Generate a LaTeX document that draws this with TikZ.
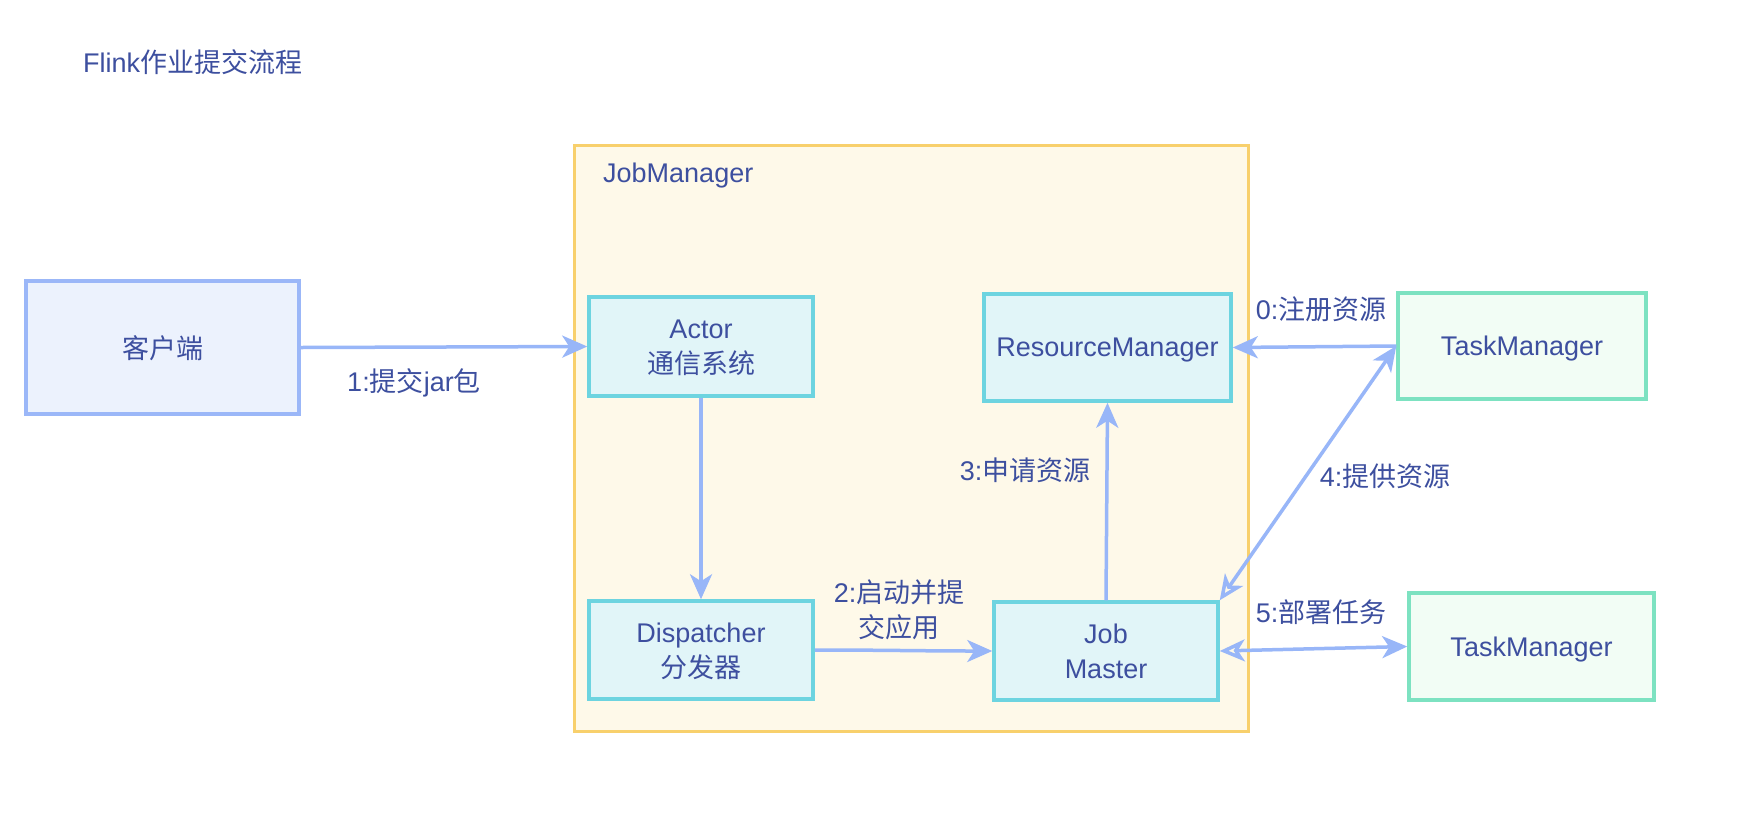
\documentclass[tikz,border=0pt]{standalone}
\usepackage{fontspec}
\setmainfont{Liberation Sans}
\newfontfamily\cjk{Noto Sans CJK SC}
\usetikzlibrary{arrows.meta}
\definecolor{txt}{HTML}{3D4F9F}
\definecolor{arrowc}{HTML}{98B6F8}
\definecolor{clientfill}{HTML}{ECF2FD}
\definecolor{clientdraw}{HTML}{9BB7F8}
\definecolor{cyanfill}{HTML}{E1F5F8}
\definecolor{cyandraw}{HTML}{6DD4E0}
\definecolor{jmfill}{HTML}{FEF9E9}
\definecolor{jmdraw}{HTML}{F8D06C}
\definecolor{greenfill}{HTML}{F2FDF5}
\definecolor{greendraw}{HTML}{7DE2C1}
\tikzset{
  basebox/.style={rectangle, line width=3.5pt, align=center, text=txt,
    font=\fontsize{27}{35}\selectfont, inner sep=0pt, text depth=0pt},
  clientbox/.style={basebox, draw=clientdraw, fill=clientfill},
  cyanbox/.style={basebox, draw=cyandraw, fill=cyanfill},
  greenbox/.style={basebox, draw=greendraw, fill=greenfill},
  lbl/.style={text=txt, font=\fontsize{27}{35}\selectfont, align=center, inner sep=0pt},
  flow/.style={draw=arrowc, line width=3.5pt},
  fhead/.style={-{Stealth[length=25pt,width=22pt,inset=7pt]}},
  dhead/.style={{Stealth[open,length=25pt,width=22pt,inset=7pt]}-{Stealth[length=25pt,width=22pt,inset=7pt]}},
}
\begin{document}
\begin{tikzpicture}[x=1pt,y=-1pt]
\useasboundingbox (0,0) rectangle (1740,812);
\fill[white] (0,0) rectangle (1740,812);
% title
\node[lbl, anchor=west] (title) at (83,62) {Flink{\cjk 作业提交流程}};
% container
\draw[draw=jmdraw, fill=jmfill, line width=3pt] (574.5,145.5) rectangle (1248.5,731.5);
\node[lbl, anchor=west] (jmlabel) at (603,176) {JobManager};
% nodes
\node[clientbox, minimum width=273pt, minimum height=133pt] (client) at (162.5,347.5) {\cjk 客户端};
\node[cyanbox, minimum width=224pt, minimum height=99pt] (actor) at (701,346.5) {Actor\\{\cjk 通信系统}};
\node[cyanbox, minimum width=224pt, minimum height=98pt] (disp) at (701,650) {Dispatcher\\{\cjk 分发器}};
\node[cyanbox, minimum width=247pt, minimum height=107pt] (rm) at (1107.5,347.5) {ResourceManager};
\node[cyanbox, minimum width=224pt, minimum height=98pt] (jm) at (1106,651) {Job\\Master};
\node[greenbox, minimum width=248pt, minimum height=106pt] (tm1) at (1522,346) {TaskManager};
\node[greenbox, minimum width=245pt, minimum height=107pt] (tm2) at (1531.5,646.5) {TaskManager};
% edges
\draw[flow, fhead] (client.east) -- (actor.west);
\draw[flow, fhead] (actor.south) -- (disp.north);
\draw[flow, fhead] (disp.east) to[out=0,in=180] (jm.west);
\draw[flow, fhead] (jm.north) -- (rm.south);
\draw[flow, fhead] (tm1.west) -- (rm.east);
\draw[flow, dhead] (jm.north east) -- (tm1.west);
\draw[flow, dhead] (jm.east) -- (tm2.west);
% labels
\node[lbl] (l1) at (414,383) {1:{\cjk 提交}jar{\cjk 包}};
\node[lbl] (l2) at (899,610) {2:{\cjk 启动并提}\\{\cjk 交应用}};
\node[lbl] (l3) at (1025,470) {3:{\cjk 申请资源}};
\node[lbl] (l0) at (1321,309) {0:{\cjk 注册资源}};
\node[lbl] (l4) at (1385,476) {4:{\cjk 提供资源}};
\node[lbl] (l5) at (1321,612) {5:{\cjk 部署任务}};
\end{tikzpicture}
\end{document}
